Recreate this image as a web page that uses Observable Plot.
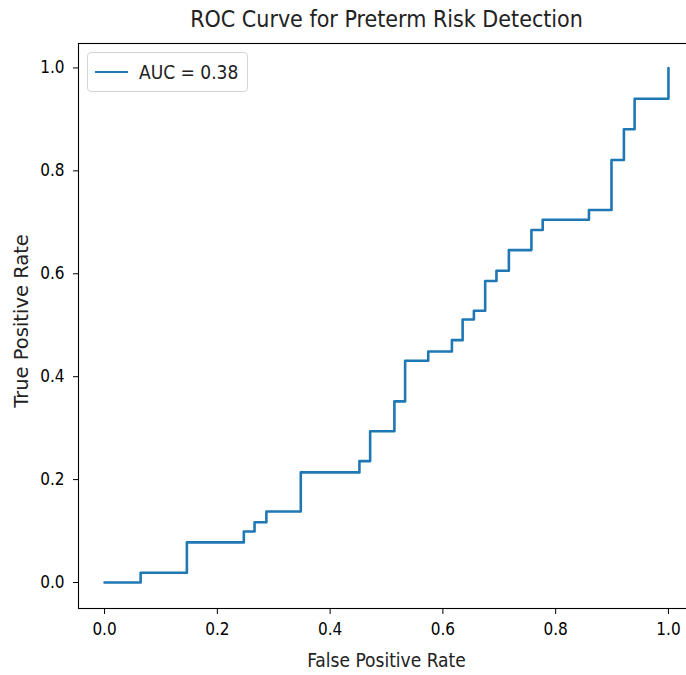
<!DOCTYPE html>
<html>
<head>
<meta charset="utf-8">
<script src="https://cdn.jsdelivr.net/npm/d3@7"></script>
<script src="https://cdn.jsdelivr.net/npm/@observablehq/plot@0.6"></script>
<style>
  html, body { margin: 0; padding: 0; background: #fff; }
  #wrap { position: relative; width: 686px; height: 675px; overflow: hidden; }
  #wrap svg { overflow: visible; }
  .legend {
    position: absolute; left: 87px; top: 52px; width: 161px; height: 40px;
    box-sizing: border-box; border: 1px solid #d4d4d4; border-radius: 4px;
    background: rgba(255,255,255,0.8);
    font-family: "DejaVu Sans Condensed", "DejaVu Sans", sans-serif; font-size: 19px; color: #222;
    display: flex; align-items: center;
  }
  .legend .swatch { width: 33px; height: 0; border-top: 2.6px solid #1f77b4; margin-left: 7px; margin-right: 11px; }
</style>
</head>
<body>
<div id="wrap"></div>
<script>
// ---- data ----
const fpr = [0, 0.064, 0.146, 0.247, 0.266, 0.287, 0.348, 0.452, 0.471, 0.514, 0.533, 0.574, 0.616, 0.635, 0.655, 0.675, 0.695, 0.717, 0.757, 0.777, 0.859, 0.899, 0.921, 0.940, 1.0];
const tpr = [0, 0.019, 0.078, 0.099, 0.117, 0.138, 0.214, 0.236, 0.294, 0.352, 0.431, 0.449, 0.471, 0.511, 0.528, 0.586, 0.606, 0.646, 0.685, 0.705, 0.724, 0.821, 0.881, 0.940, 1.0];
const xTicks = [0, 0.2, 0.4, 0.6, 0.8, 1.0];
const yTicks = [0, 0.2, 0.4, 0.6, 0.8, 1.0];
const titleText = "ROC Curve for Preterm Risk Detection";
const xLabelText = "False Positive Rate";
const yLabelText = "True Positive Rate";
const legendText = "AUC = 0.38";

const points = fpr.map((x, i) => ({fpr: x, tpr: tpr[i]}));
const condensed = "'DejaVu Sans Condensed', 'DejaVu Sans', sans-serif";
const fmt = d3.format(".1f");

const chart = Plot.plot({
  width: 686,
  height: 675,
  marginLeft: 78,
  marginRight: -8,
  marginTop: 43,
  marginBottom: 67,
  style: {fontFamily: condensed, background: "white", color: "black"},
  x: {domain: [-0.0462, 1.0462]},
  y: {domain: [-0.0505, 1.0475]},
  marks: [
    Plot.line(points, {x: "fpr", y: "tpr", curve: "step-after", stroke: "#1f77b4", strokeWidth: 2.6}),
    Plot.frame({stroke: "black", strokeWidth: 1.1}),
    Plot.axisX({ticks: xTicks, tickFormat: fmt, tickSize: 6, tickPadding: 8, fontSize: 17, label: null, stroke: "black"}),
    Plot.axisY({ticks: yTicks, tickFormat: fmt, tickSize: 5, tickPadding: 9, fontSize: 17, label: null, stroke: "black"}),
    Plot.text([titleText], {text: d => d, frameAnchor: "top", dy: -33, fontSize: 23, fill: "#222"}),
    Plot.text([xLabelText], {text: d => d, frameAnchor: "bottom", dy: 58, fontSize: 19, fill: "#222"}),
    Plot.text([yLabelText], {text: d => d, frameAnchor: "left", textAnchor: "middle", dx: -57, dy: -5, rotate: -90, fontSize: 19.5, fill: "#222", fontFamily: "'DejaVu Sans', sans-serif"})
  ]
});

const wrap = document.getElementById("wrap");
wrap.appendChild(chart);
const leg = document.createElement("div");
leg.className = "legend";
const sw = document.createElement("span");
sw.className = "swatch";
const lt = document.createElement("span");
lt.textContent = legendText;
leg.appendChild(sw);
leg.appendChild(lt);
wrap.appendChild(leg);
</script>
</body>
</html>
